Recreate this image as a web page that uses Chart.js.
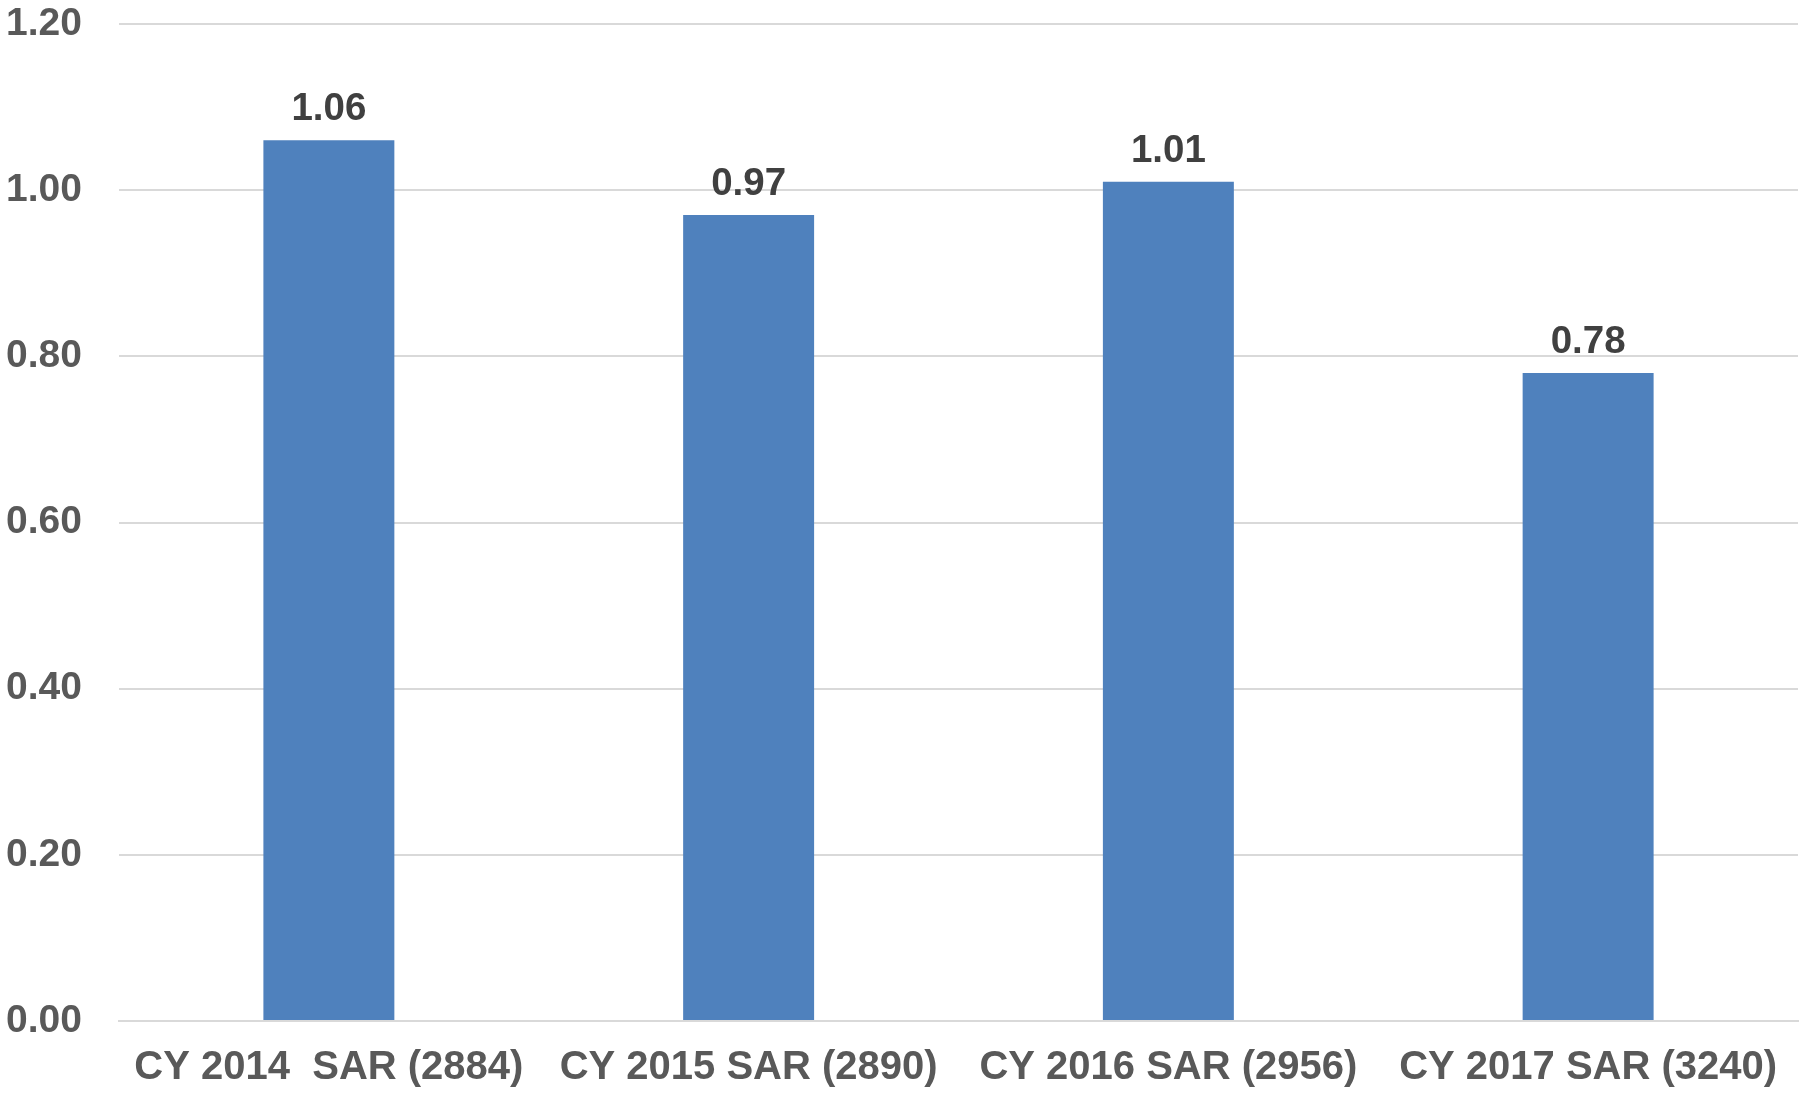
<!DOCTYPE html>
<html>
<head>
<meta charset="utf-8">
<script src="https://cdn.jsdelivr.net/npm/chart.js@4.4.1/dist/chart.umd.min.js"></script>
<style>
  html, body { margin: 0; padding: 0; background: #ffffff; }
  #wrap { width: 1801px; height: 1096px; position: relative; }
</style>
</head>
<body>
<div id="wrap"><canvas id="c" width="1801" height="1096"></canvas></div>
<script>
const categories = ["CY 2014  SAR (2884)", "CY 2015 SAR (2890)", "CY 2016 SAR (2956)", "CY 2017 SAR (3240)"];
const values = [1.06, 0.97, 1.01, 0.78];
const yTickMin = 0;
const yTickMax = 1.2;
const yTickStep = 0.2;

const FONT = "'Liberation Sans', Arial, sans-serif";

const dataLabels = {
  id: 'dataLabels',
  afterDatasetsDraw(chart) {
    const ctx = chart.ctx;
    const meta = chart.getDatasetMeta(0);
    ctx.save();
    ctx.font = "bold 38.5px " + FONT;
    ctx.fillStyle = "#404040";
    ctx.textAlign = "center";
    ctx.textBaseline = "alphabetic";
    meta.data.forEach((bar, i) => {
      ctx.fillText(values[i].toFixed(2), bar.x, bar.y - 20);
    });
    ctx.restore();
  }
};

new Chart(document.getElementById('c'), {
  type: 'bar',
  data: {
    labels: categories,
    datasets: [{
      data: values,
      backgroundColor: '#4F81BD',
      borderWidth: 0,
      barPercentage: 0.52,
      categoryPercentage: 0.6
    }]
  },
  options: {
    responsive: false,
    animation: false,
    layout: { padding: { top: 0, right: 3, bottom: 0, left: 0 } },
    plugins: { legend: { display: false }, tooltip: { enabled: false } },
    scales: {
      x: {
        grid: { display: false, drawTicks: false },
        border: { display: true, color: '#d9d9d9', width: 2 },
        ticks: {
          color: '#595959',
          font: { family: FONT, size: 40, weight: 'bold' },
          padding: 23,
          maxRotation: 0,
          autoSkip: false
        },
        afterFit(scale) { scale.height = 75; scale.paddingLeft = 0; scale.paddingRight = 0; }
      },
      y: {
        min: yTickMin,
        max: yTickMax,
        grid: { color: '#d9d9d9', lineWidth: 2, drawTicks: false },
        border: { display: false },
        ticks: {
          stepSize: yTickStep,
          color: '#595959',
          font: { family: FONT, size: 39, weight: 'bold' },
          padding: 37,
          callback: (v) => Number(v).toFixed(2)
        },
        afterFit(scale) { scale.width = 119; scale.paddingTop = 24; scale.paddingBottom = 0; }
      }
    }
  },
  plugins: [dataLabels]
});
</script>
</body>
</html>
